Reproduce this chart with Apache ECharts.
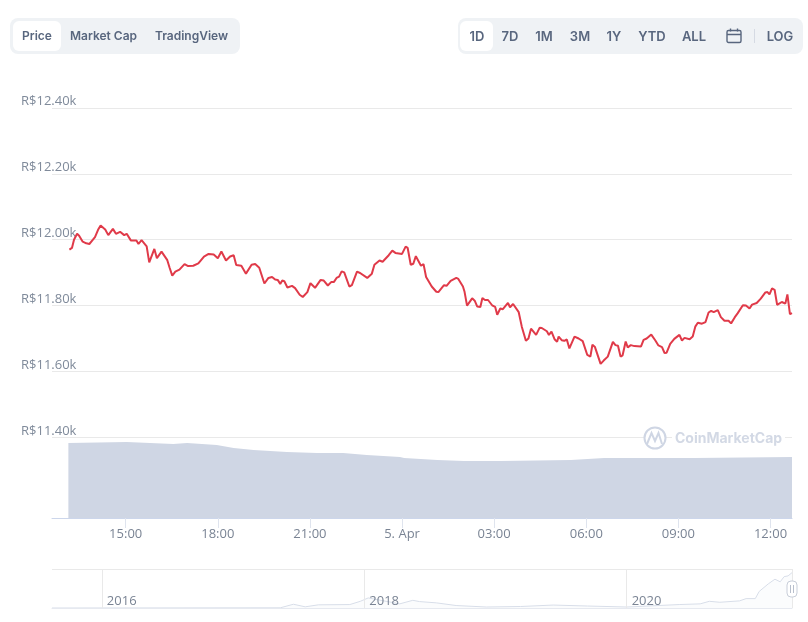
<!DOCTYPE html>
<html>
<head>
<meta charset="utf-8">
<title>Price chart</title>
<script src="https://cdn.jsdelivr.net/npm/echarts@6/dist/echarts.min.js"></script>
<style>
  html, body { margin: 0; padding: 0; background: #fff; }
  #chart { position: absolute; left: 0; top: 0; width: 808px; height: 622px; }
  .panel { position: absolute; top: 18px; height: 36px; background: #eff2f5; border-radius: 8px; }
  .active { position: absolute; top: 21px; height: 30px; background: #fff; border-radius: 6px; }
  .btn { position: absolute; top: 27px; font: 600 13px/18px Inter, sans-serif; color: #58667e; transform: translateX(-50%); white-space: nowrap; }
  .tab { font-size: 12px; }
  .sep { position: absolute; top: 29px; left: 754px; width: 1px; height: 14px; background: #d5dae3; }
  #cal { position: absolute; left: 726px; top: 28px; }
</style>
</head>
<body>
<div id="chart"></div>
<div class="panel" style="left:10px;width:230px"></div>
<div class="active" style="left:13px;width:48px"></div>
<div class="panel" style="left:458px;width:345px"></div>
<div class="active" style="left:460px;width:33px"></div>
<div id="buttons"></div>
<svg id="cal" width="16" height="16" viewBox="0 0 16 16" fill="none" stroke="#58667e" stroke-width="1.4">
  <rect x="1" y="2.5" width="14" height="12" rx="1.5"></rect>
  <path d="M1 6.5H15M4.5 0.5V3.5M11.5 0.5V3.5"></path>
</svg>
<div class="sep"></div>
<script>
// minutes after 00:00 on 4 Apr
const priceMinutes = [790,795,799,805,809,816,823,829,836,840,846,851,860,866,875,881,889,897,902,910,921,925,931,941,946,956,961,970,981,986,991,997,1005,1015,1022,1032,1042,1053,1062,1072,1080,1087,1096,1104,1111,1116,1126,1135,1146,1153,1161,1171,1179,1186,1192,1197,1202,1206,1210,1216,1225,1231,1240,1246,1255,1261,1270,1281,1287,1295,1302,1307,1312,1317,1322,1327,1337,1342,1352,1358,1372,1381,1386,1396,1402,1414,1421,1427,1440,1447,1451,1457,1462,1467,1477,1482,1487,1498,1507,1511,1522,1527,1535,1546,1550,1559,1562,1567,1577,1582,1587,1593,1597,1602,1608,1616,1622,1626,1632,1637,1647,1651,1657,1668,1674,1682,1687,1692,1702,1709,1713,1723,1727,1732,1738,1743,1746,1752,1757,1762,1767,1777,1785,1793,1802,1808,1812,1817,1828,1834,1842,1852,1857,1862,1867,1871,1877,1881,1887,1894,1907,1912,1918,1927,1935,1941,1948,1953,1957,1964,1972,1982,1987,1992,2002,2008,2013,2018,2026,2033,2039,2044,2049,2057,2063,2070,2078,2083,2090,2096,2106,2112,2119,2124,2133,2141,2150,2154,2158,2163,2168,2173,2182,2189,2193,2198,2202];
const priceValues = [11970,11975,12000,12018,12012,11994,11989,11987,12000,12008,12030,12043,12031,12014,12033,12018,12024,12014,12018,11998,11998,11987,11999,11980,11931,11972,11944,11964,11939,11914,11891,11903,11909,11926,11920,11921,11928,11949,11957,11955,11944,11964,11937,11949,11953,11923,11921,11897,11924,11926,11915,11867,11884,11887,11879,11878,11866,11876,11874,11855,11860,11853,11833,11826,11841,11868,11854,11878,11876,11861,11872,11872,11884,11888,11904,11901,11858,11862,11903,11899,11884,11897,11924,11937,11933,11953,11967,11960,11957,11979,11975,11924,11927,11950,11921,11926,11887,11858,11842,11841,11862,11860,11875,11884,11881,11858,11843,11800,11822,11815,11797,11796,11823,11817,11817,11801,11796,11772,11791,11789,11808,11795,11805,11780,11736,11693,11700,11730,11711,11733,11732,11722,11711,11721,11698,11690,11706,11695,11693,11697,11670,11706,11700,11692,11650,11645,11681,11674,11623,11633,11645,11690,11680,11678,11645,11649,11691,11673,11680,11677,11676,11696,11700,11712,11694,11679,11674,11656,11657,11684,11699,11711,11694,11702,11698,11706,11736,11748,11745,11750,11779,11784,11780,11786,11765,11754,11754,11746,11764,11777,11801,11800,11791,11803,11808,11821,11840,11841,11834,11852,11848,11802,11811,11806,11834,11774,11777];
const volumeMinutes = [788,902,993,1020,1078,1111,1150,1215,1274,1325,1371,1436,1444,1509,1561,1581,1633,1770,1835,2011,2202];
const volumeValues = [75,76,74,75,73,70,68,66,65,65,63,61,60,58,57,57,57,58,60,60,61];
const historyYears = [2015.62,2017.36,2017.46,2017.55,2017.65,2017.89,2017.97,2018.03,2018.27,2018.37,2018.42,2018.55,2018.70,2018.93,2019.19,2019.44,2019.70,2020.00,2020.40,2020.56,2020.63,2020.71,2020.86,2020.91,2020.98,2021.01,2021.08,2021.13,2021.17,2021.20,2021.23,2021.26];
const historyValues = [0,70,1360,430,1150,1250,2430,3650,1500,2790,2330,1860,900,360,540,1070,720,360,1250,1500,2430,2080,2580,3400,3400,6010,8770,10450,9490,11380,11640,12820];
const priceTicks = [11400,11600,11800,12000,12200,12400];
const timeTicks = [900,1080,1260,1440,1620,1800,1980,2160];
const timeLabels = ['15:00','18:00','21:00','5. Apr','03:00','06:00','09:00','12:00'];
const yearTicks = [2016,2018,2020];

const tabButtons = [['Price',37],['Market Cap',103.5],['TradingView',191.5]];
const rangeButtons = [['1D',477],['7D',510],['1M',544],['3M',580],['1Y',614],['YTD',652],['ALL',694],['LOG',780]];

document.getElementById('buttons').innerHTML =
  tabButtons.map(b => '<div class="btn tab" style="left:' + b[1] + 'px">' + b[0] + '</div>').join('') +
  rangeButtons.map(b => '<div class="btn" style="left:' + b[1] + 'px">' + b[0] + '</div>').join('');

const pairs = (a, b) => a.map((v, i) => [v, b[i]]);
const labelFont = '"Open Sans", sans-serif';

const chart = echarts.init(document.getElementById('chart'), null, { renderer: 'canvas' });
chart.setOption({
  animation: false,
  backgroundColor: '#fff',
  grid: [
    { left: 52, right: 16, top: 108, bottom: 104 },
    { left: 52, right: 16, top: 569, bottom: 14 }
  ],
  xAxis: [
    {
      type: 'value', gridIndex: 0, min: 756, max: 2202,
      axisLine: { onZero: false, lineStyle: { color: '#ccd6eb' } },
      axisTick: { length: 10, lineStyle: { color: '#dfe4ee' }, customValues: timeTicks },
      splitLine: { show: false },
      axisLabel: {
        customValues: timeTicks, color: '#7a8494', fontFamily: labelFont, fontSize: 13, margin: 10,
        formatter: v => timeLabels[timeTicks.indexOf(v)]
      }
    },
    {
      type: 'value', gridIndex: 1, min: 2015.62, max: 2021.26, z: 5,
      axisLine: { onZero: false, lineStyle: { color: '#e6e9f0' } },
      axisTick: { show: false, customValues: yearTicks.concat(2021.26) },
      splitLine: { show: true, lineStyle: { color: '#e9e9e9' } },
      axisLabel: {
        inside: true, customValues: yearTicks, align: 'left', padding: [0, 0, 0, 5], margin: 0,
        color: '#7a8494', fontFamily: labelFont, fontSize: 13,
        formatter: v => String(v)
      }
    }
  ],
  yAxis: [
    {
      type: 'value', gridIndex: 0, min: 11155, max: 12400,
      axisLine: { show: false },
      axisTick: { show: false, customValues: priceTicks },
      splitLine: { lineStyle: { color: '#e9e9e9' } },
      axisLabel: {
        customValues: priceTicks, align: 'left', verticalAlign: 'bottom', margin: 31,
        color: '#7f8a9a', fontFamily: labelFont, fontSize: 13,
        formatter: v => 'R$' + (v / 1000).toFixed(2) + 'k'
      }
    },
    { type: 'value', gridIndex: 0, min: 0, max: 410, show: false },
    {
      type: 'value', gridIndex: 1, min: 0, max: 14140,
      axisLine: { show: false },
      axisTick: { show: false, customValues: [14140] },
      axisLabel: { show: false },
      splitLine: { show: true, lineStyle: { color: '#e9e9e9' } }
    }
  ],
  series: [
    {
      type: 'line', name: 'Volume', xAxisIndex: 0, yAxisIndex: 1, showSymbol: false, z: 1,
      data: pairs(volumeMinutes, volumeValues),
      lineStyle: { width: 0 },
      areaStyle: { color: '#cfd6e4', opacity: 1 }
    },
    {
      type: 'line', name: 'Price', xAxisIndex: 0, yAxisIndex: 0, showSymbol: false, z: 3,
      data: pairs(priceMinutes, priceValues),
      lineStyle: { color: '#e03a49', width: 2 }
    },
    {
      type: 'line', name: 'History', xAxisIndex: 1, yAxisIndex: 2, showSymbol: false, z: 1,
      data: pairs(historyYears, historyValues),
      lineStyle: { color: '#d8dee9', width: 1 },
      areaStyle: { color: '#fbfcfd', opacity: 1 }
    }
  ],
  graphic: [
    { type: 'circle', shape: { cx: 655, cy: 438, r: 10.5 }, style: { fill: '#fff', stroke: '#cfd6e4', lineWidth: 2 }, z: 5 },
    { type: 'polyline', shape: { points: [[647, 444], [651.5, 433], [655, 441], [658.5, 433], [662, 444]] }, style: { fill: null, stroke: '#cfd6e4', lineWidth: 2 }, z: 6 },
    { type: 'rect', shape: { x: 672, y: 430, width: 113, height: 18 }, style: { fill: '#fff' }, z: 5 },
    { type: 'text', x: 675, y: 439, style: { text: 'CoinMarketCap', fill: '#d3d9e5', font: '700 14px Inter, sans-serif', textVerticalAlign: 'middle' }, z: 6 },
    { type: 'rect', shape: { x: 787, y: 581, width: 10, height: 16, r: 4 }, style: { fill: '#fff', stroke: '#c8ced9' }, z: 6 },
    { type: 'polyline', shape: { points: [[790.5, 585], [790.5, 593]] }, style: { stroke: '#b8bfcc', fill: null }, z: 7 },
    { type: 'polyline', shape: { points: [[793.5, 585], [793.5, 593]] }, style: { stroke: '#b8bfcc', fill: null }, z: 7 }
  ]
});
</script>
</body>
</html>
